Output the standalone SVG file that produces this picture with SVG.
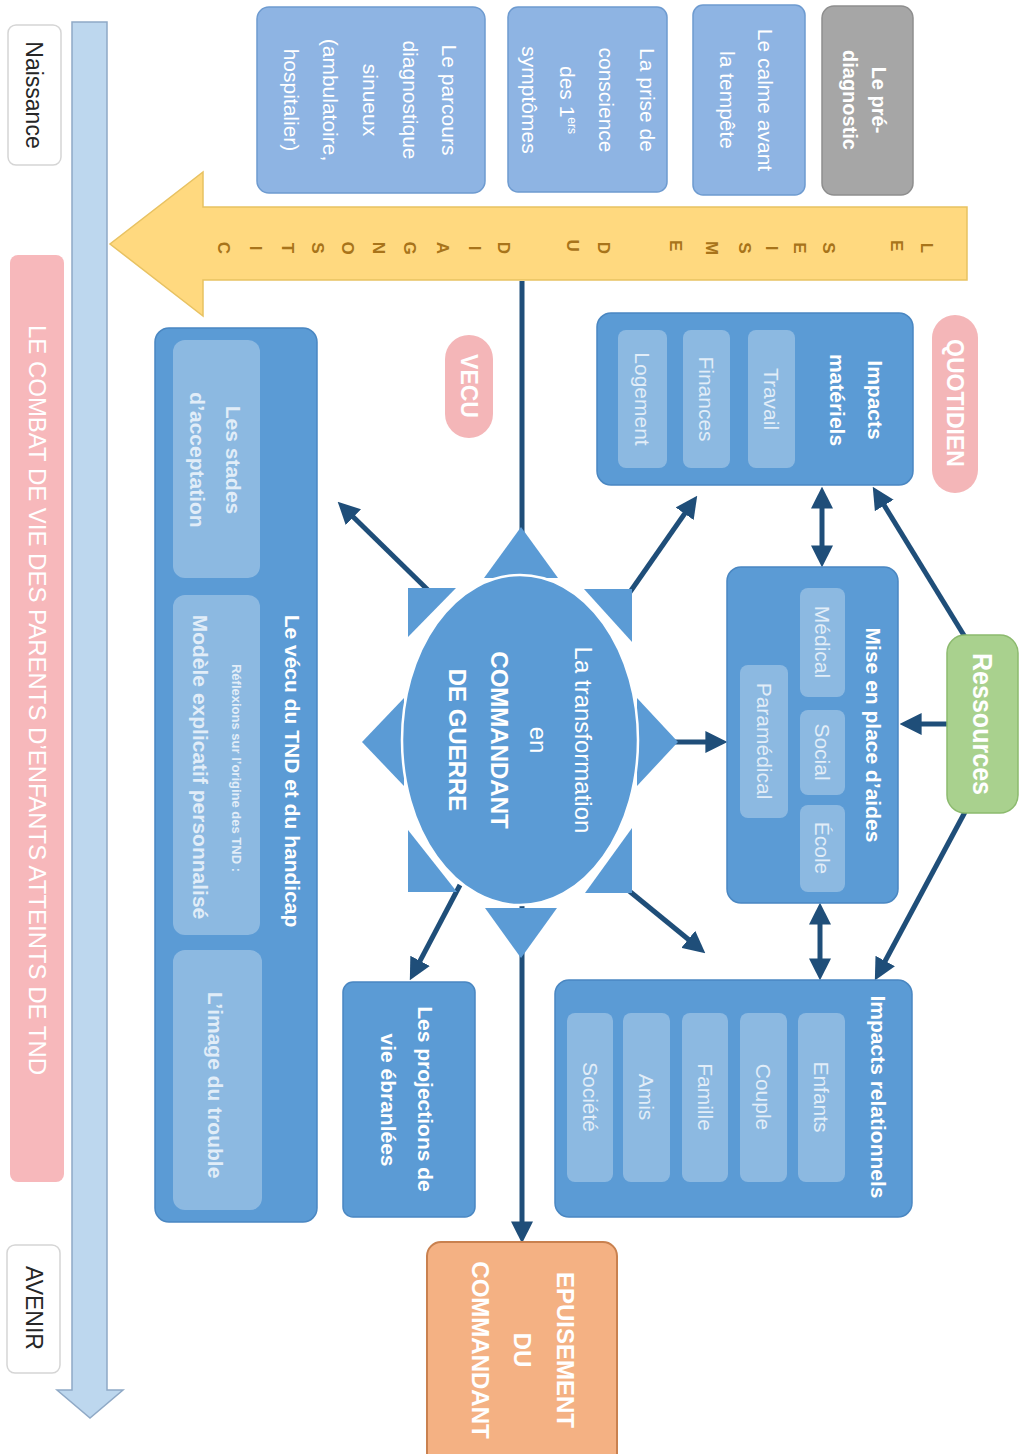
<svg xmlns="http://www.w3.org/2000/svg" width="1022" height="1454" viewBox="0 0 1022 1454">
<style>
text{font-family:"Liberation Sans","DejaVu Sans",sans-serif;text-anchor:middle}
.w{fill:#ffffff}
.b{font-weight:bold}
.s{fill:#E1EDF8}
.box{fill:#5B9BD5;stroke:#4A87C2;stroke-width:1.5}
.sub{fill:#ffffff;fill-opacity:0.3}
.top{fill:#8EB4E3;stroke:#6E9BD0;stroke-width:1.5}
.pill{fill:#F4B6B8}
.ray{fill:#5B9BD5}
.con{stroke:#1F4E79;stroke-width:5;fill:none}
.lt{fill:#A8741A;font-size:17px;font-weight:bold}
</style>
<defs>
<marker id="ah" viewBox="0 0 10 10" refX="3" refY="5" markerWidth="4.4" markerHeight="4.4" orient="auto-start-reverse">
<path d="M0,0 L10,5 L0,10 z" fill="#1F4E79"/>
</marker>
</defs>
<rect width="1022" height="1454" fill="#ffffff"/>

<!-- timeline -->
<g id="timeline">
<polygon points="72,22 107,22 107,1390 123,1390 90,1418 57,1390 72,1390" fill="#BDD7EE" stroke="#8FA9C6" stroke-width="1.5"/>
</g>
<g id="naissance">
<rect x="8" y="25" width="53" height="140" rx="8" fill="#ffffff" stroke="#D5D5D5" stroke-width="1.5"/>
<text transform="rotate(90)" x="95" y="-26" font-size="23" fill="#262626">Naissance</text>
</g>
<g id="avenir">
<rect x="7" y="1245" width="53" height="128" rx="8" fill="#ffffff" stroke="#D5D5D5" stroke-width="1.5"/>
<text transform="rotate(90)" x="1308" y="-26" font-size="23" fill="#262626">AVENIR</text>
</g>
<g id="titre">
<rect x="10" y="255" width="54" height="927" rx="8" fill="#F7B8BB"/>
<text transform="rotate(90)" x="700" y="-29" font-size="23" class="w" textLength="750" lengthAdjust="spacingAndGlyphs">LE COMBAT DE VIE DES PARENTS D’ENFANTS ATTEINTS DE TND</text>
</g>

<!-- yellow arrow -->
<g id="seisme">
<polygon points="967,207 203,207 203,172 110,244 203,316 203,280 967,280" fill="#FFD97F" stroke="#E8C262" stroke-width="1.5"/>
<text transform="rotate(90)" class="lt">
<tspan x="248" y="-921">L</tspan><tspan x="248" y="-891">E</tspan>
<tspan x="248" y="-823">S</tspan><tspan x="248" y="-794">E</tspan><tspan x="248" y="-766">I</tspan><tspan x="248" y="-739">S</tspan><tspan x="248" y="-706">M</tspan><tspan x="248" y="-670">E</tspan>
<tspan x="248" y="-598">D</tspan><tspan x="248" y="-567">U</tspan>
<tspan x="248" y="-498">D</tspan><tspan x="248" y="-469">I</tspan><tspan x="248" y="-437">A</tspan><tspan x="248" y="-404">G</tspan><tspan x="248" y="-373">N</tspan><tspan x="248" y="-342">O</tspan><tspan x="248" y="-312">S</tspan><tspan x="248" y="-282">T</tspan><tspan x="248" y="-250">I</tspan><tspan x="248" y="-218">C</tspan>
</text>
</g>

<!-- top row -->
<g id="prediagnostic">
<rect x="822" y="6" width="91" height="189" rx="12" fill="#A6A6A6" stroke="#8E8E8E" stroke-width="1.5"/>
<text transform="rotate(90)" class="w b" font-size="20"><tspan x="100" y="-872">Le pré-</tspan><tspan x="100" y="-843">diagnostic</tspan></text>
</g>
<g id="calme">
<rect x="693" y="5" width="112" height="190" rx="10" class="top"/>
<text transform="rotate(90)" class="w" font-size="21"><tspan x="100" y="-758">Le calme avant</tspan><tspan x="100" y="-720">la tempête</tspan></text>
</g>
<g id="prise">
<rect x="508" y="7" width="159" height="185" rx="10" class="top"/>
<text transform="rotate(90)" class="w" font-size="21"><tspan x="100" y="-640">La prise de</tspan><tspan x="100" y="-599">conscience</tspan><tspan x="100" y="-560">des 1<tspan font-size="12" dy="-8">ers</tspan></tspan><tspan x="100" y="-522">symptômes</tspan></text>
</g>
<g id="parcours">
<rect x="257" y="7" width="228" height="186" rx="12" class="top"/>
<text transform="rotate(90)" class="w" font-size="21"><tspan x="100" y="-442">Le parcours</tspan><tspan x="100" y="-403">diagnostique</tspan><tspan x="100" y="-363">sinueux</tspan><tspan x="100" y="-323">(ambulatoire,</tspan><tspan x="100" y="-284">hospitalier)</tspan></text>
</g>

<!-- connectors -->
<g id="connectors" class="con">
<line x1="522" y1="281" x2="522" y2="1228" marker-end="url(#ah)"/>
<line x1="630" y1="592" x2="688.4" y2="508.3" marker-end="url(#ah)"/>
<line x1="670" y1="742" x2="712" y2="742" marker-end="url(#ah)"/>
<line x1="628" y1="890" x2="693.4" y2="943.5" marker-end="url(#ah)"/>
<line x1="430" y1="592" x2="348.7" y2="512.5" marker-end="url(#ah)"/>
<line x1="460" y1="885" x2="417" y2="966.7" marker-end="url(#ah)"/>
<line x1="822" y1="502" x2="822" y2="552" marker-start="url(#ah)" marker-end="url(#ah)"/>
<line x1="820" y1="918" x2="820" y2="965" marker-start="url(#ah)" marker-end="url(#ah)"/>
<line x1="965" y1="637" x2="880.8" y2="499.8" marker-end="url(#ah)"/>
<line x1="947" y1="724" x2="915" y2="724" marker-end="url(#ah)"/>
<line x1="965" y1="812" x2="882.1" y2="966.8" marker-end="url(#ah)"/>
</g>

<!-- central sun -->
<g id="commandant">
<polygon class="ray" points="521,527 484,578 558,578"/>
<polygon class="ray" points="521,958 485,908 557,908"/>
<polygon class="ray" points="362,742 404,698 404,786"/>
<polygon class="ray" points="678,742 637,698 637,786"/>
<polygon class="ray" points="632,589 584,589 632,642"/>
<polygon class="ray" points="632,893 632,828 585,893"/>
<polygon class="ray" points="408,588 456,588 408,637"/>
<polygon class="ray" points="408,892 408,830 457,892"/>
<ellipse cx="520" cy="740" rx="118" ry="165" fill="#5B9BD5" stroke="#ffffff" stroke-width="2.5"/>
<text transform="rotate(90)" class="w" font-size="24"><tspan x="740" y="-575">La transformation</tspan><tspan x="740" y="-530">en</tspan></text>
<text transform="rotate(90)" class="w b" font-size="24"><tspan x="740" y="-491">COMMANDANT</tspan><tspan x="740" y="-449">DE GUERRE</tspan></text>
</g>

<!-- right side -->
<g id="quotidien">
<rect x="932" y="315" width="46" height="178" rx="23" class="pill"/>
<text transform="rotate(90)" x="403" y="-947" font-size="23" class="w b">QUOTIDIEN</text>
</g>
<g id="impacts-materiels">
<rect x="597" y="313" width="316" height="172" rx="14" class="box"/>
<text transform="rotate(90)" class="w b" font-size="21"><tspan x="400" y="-868">Impacts</tspan><tspan x="400" y="-830">matériels</tspan></text>
<rect x="748" y="330" width="47" height="138" rx="8" class="sub"/>
<rect x="683" y="330" width="47" height="138" rx="8" class="sub"/>
<rect x="618" y="330" width="49" height="138" rx="8" class="sub"/>
<text transform="rotate(90)" class="s" font-size="21"><tspan x="399" y="-764">Travail</tspan><tspan x="399" y="-699">Finances</tspan><tspan x="399" y="-635">Logement</tspan></text>
</g>
<g id="aides">
<rect x="727" y="567" width="171" height="336" rx="14" class="box"/>
<text transform="rotate(90)" x="735" y="-866" font-size="21" class="w b">Mise en place d’aides</text>
<rect x="800" y="588" width="45" height="109" rx="8" class="sub"/>
<rect x="800" y="710" width="45" height="85" rx="8" class="sub"/>
<rect x="800" y="805" width="45" height="87" rx="8" class="sub"/>
<rect x="740" y="665" width="48" height="153" rx="8" class="sub"/>
<text transform="rotate(90)" class="s" font-size="21"><tspan x="642" y="-815">Médical</tspan><tspan x="752" y="-815">Social</tspan><tspan x="848" y="-815">École</tspan><tspan x="741" y="-757">Paramédical</tspan></text>
</g>
<g id="ressources">
<rect x="947" y="635" width="71" height="178" rx="18" fill="#A9D18E" stroke="#8CBA6E" stroke-width="1.5"/>
<text transform="rotate(90)" x="724" y="-973" font-size="27" class="w b" textLength="142" lengthAdjust="spacingAndGlyphs">Ressources</text>
</g>
<g id="impacts-relationnels">
<rect x="555" y="980" width="357" height="237" rx="14" class="box"/>
<text transform="rotate(90)" x="1097" y="-871" font-size="21" class="w b">Impacts relationnels</text>
<rect x="798" y="1013" width="47" height="169" rx="8" class="sub"/>
<rect x="740" y="1013" width="47" height="169" rx="8" class="sub"/>
<rect x="682" y="1013" width="46" height="169" rx="8" class="sub"/>
<rect x="623" y="1013" width="47" height="169" rx="8" class="sub"/>
<rect x="567" y="1013" width="46" height="169" rx="8" class="sub"/>
<text transform="rotate(90)" class="s" font-size="21"><tspan x="1097" y="-814">Enfants</tspan><tspan x="1097" y="-756">Couple</tspan><tspan x="1097" y="-698">Famille</tspan><tspan x="1097" y="-639">Amis</tspan><tspan x="1097" y="-583">Société</tspan></text>
</g>

<!-- left side -->
<g id="vecu">
<rect x="445" y="335" width="48" height="103" rx="24" class="pill"/>
<text transform="rotate(90)" x="386" y="-461" font-size="23" class="w b">VECU</text>
</g>
<g id="vecu-tnd">
<rect x="155" y="328" width="162" height="894" rx="14" class="box"/>
<text transform="rotate(90)" x="771" y="-285" font-size="21" class="w b">Le vécu du TND et du handicap</text>
<rect x="173" y="340" width="87" height="238" rx="12" class="sub"/>
<rect x="173" y="595" width="87" height="340" rx="12" class="sub"/>
<rect x="173" y="950" width="89" height="260" rx="12" class="sub"/>
<text transform="rotate(90)" class="s b" font-size="21"><tspan x="460" y="-226">Les stades</tspan><tspan x="460" y="-190">d’acceptation</tspan></text>
<text transform="rotate(90)" x="768" y="-232" font-size="13" class="s b">Réflexions sur l’origine des TND :</text>
<text transform="rotate(90)" x="767" y="-193" font-size="21" class="s b">Modèle explicatif personnalisé</text>
<text transform="rotate(90)" x="1085" y="-208" font-size="21" class="s b">L’image du trouble</text>
</g>
<g id="projections">
<rect x="343" y="982" width="132" height="235" rx="10" class="box"/>
<text transform="rotate(90)" class="w b" font-size="21"><tspan x="1099" y="-418">Les projections de</tspan><tspan x="1100" y="-381">vie ébranlées</tspan></text>
</g>
<g id="epuisement">
<rect x="427" y="1242" width="190" height="240" rx="14" fill="#F4B183" stroke="#C9814F" stroke-width="2"/>
<text transform="rotate(90)" class="w b" font-size="24"><tspan x="1350" y="-557">EPUISEMENT</tspan><tspan x="1350" y="-514">DU</tspan><tspan x="1350" y="-472">COMMANDANT</tspan></text>
</g>
</svg>
